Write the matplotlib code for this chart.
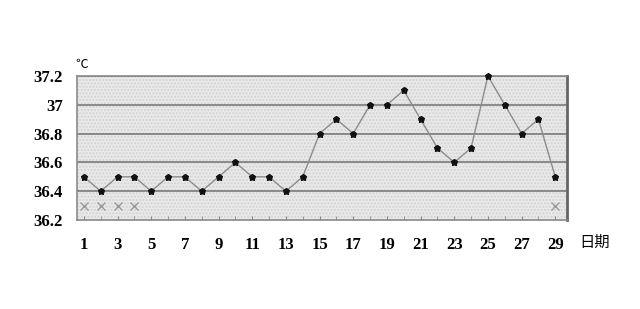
import numpy as np
import matplotlib.pyplot as plt
import matplotlib.patches as mpatches

plt.rcParams['font.family'] = ['Liberation Serif', 'Noto Sans CJK SC', 'DejaVu Sans']

days = list(range(1, 30))
temps = [36.5, 36.4, 36.5, 36.5, 36.4, 36.5, 36.5, 36.4, 36.5, 36.6,
         36.5, 36.5, 36.4, 36.5, 36.8, 36.9, 36.8, 37.0, 37.0, 37.1,
         36.9, 36.7, 36.6, 36.7, 37.2, 37.0, 36.8, 36.9, 36.5]
x_days = [1, 2, 3, 4, 29]
x_vals = [36.3, 36.3, 36.3, 36.3, 36.3]
yticks = [36.2, 36.4, 36.6, 36.8, 37.0, 37.2]
ylabels = ['36.2', '36.4', '36.6', '36.8', '37', '37.2']
xticks = list(range(1, 30, 2))

fig = plt.figure(figsize=(6.4, 3.09), dpi=100)
ax = fig.add_axes([0.120, 0.288, 0.766, 0.466])
ax.set_facecolor('#e9e9e9')
ax.add_patch(mpatches.Rectangle((0, 0), 1, 1, transform=ax.transAxes,
                                facecolor='none', edgecolor='#d2d2d2',
                                hatch='.....', linewidth=0, zorder=0))

for y in yticks[1:]:
    ax.axhline(y, color='#7a7a7a', linewidth=1.2, zorder=1)

ax.plot(days, temps, color='#8c8c8c', linewidth=1, zorder=2, clip_on=False)
ax.plot(days, temps, linestyle='none', marker='o', markersize=3.5,
        color='#111111', zorder=3, clip_on=False)
ax.plot(days, temps, linestyle='none', marker='*', markersize=5,
        color='#111111', zorder=3, clip_on=False)
ax.plot(x_days, x_vals, linestyle='none', marker='x', markersize=6,
        color='#9a9a9a', markeredgewidth=1, zorder=3)

ax.set_xlim(0.58, 29.7)
ax.set_ylim(36.2, 37.2)
ax.set_yticks(yticks)
ax.set_yticklabels(ylabels, fontweight='bold', fontsize=12)
ax.set_xticks(xticks)
ax.set_xticklabels([str(d) for d in xticks], fontweight='bold', fontsize=12)
ax.set_xticks(days, minor=True)
ax.tick_params(axis='x', which='both', direction='in', length=3, color='#888888', pad=12)
ax.tick_params(axis='y', length=0, pad=10)

for s in ['left', 'top', 'bottom']:
    ax.spines[s].set_color('#8a8a8a')
    ax.spines[s].set_linewidth(1.2)
ax.spines['right'].set_color('#666666')
ax.spines['right'].set_linewidth(2)

fig.text(0.118, 0.79, '℃', fontsize=9, ha='left', va='center',
         family=['Noto Sans CJK SC', 'DejaVu Sans'])
fig.text(0.905, 0.215, '日期', fontsize=11, ha='left', va='center',
         family=['Noto Sans CJK SC', 'DejaVu Sans'])

plt.savefig('out.png', dpi=100)
